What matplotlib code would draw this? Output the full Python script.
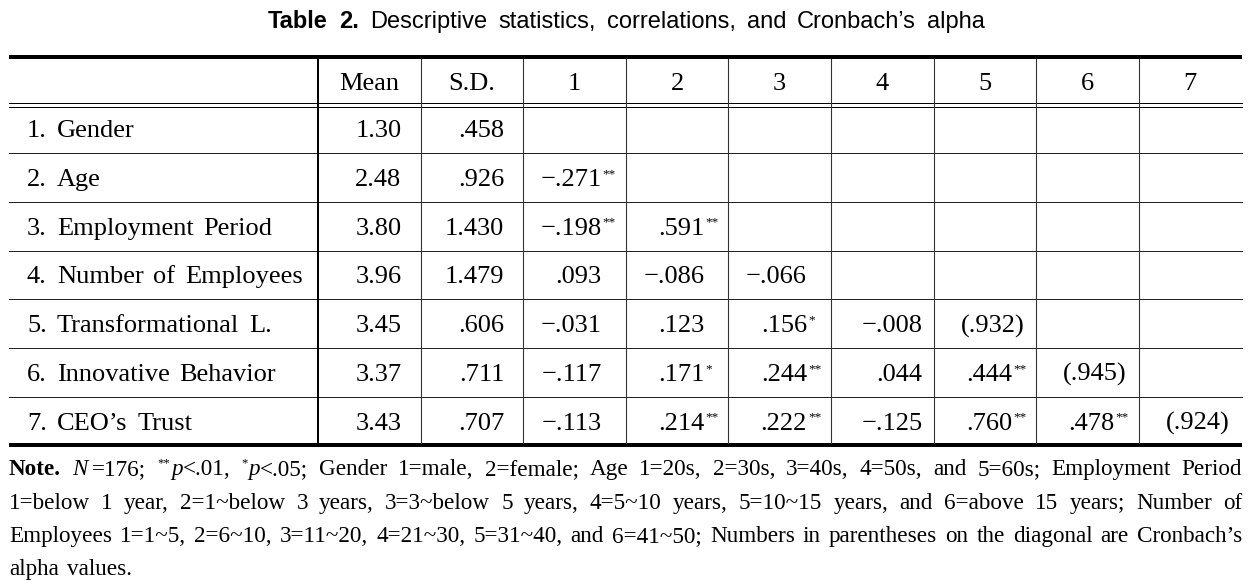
import matplotlib
matplotlib.use('Agg')
import matplotlib.pyplot as plt
from matplotlib import font_manager

W, H = 1259, 582
SERIF = 'Liberation Serif'
avail = {f.name for f in font_manager.fontManager.ttflist}
TSANS = 'Liberation Sans Narrow' if 'Liberation Sans Narrow' in avail else 'Liberation Sans'

# --- data ---
title_words = [('Table', 'bf'), ('2.', 'bf')] + [(w, 'rm') for w in
               'Descriptive statistics, correlations, and Cronbach’s alpha'.split()]
col_heads = ['Mean', 'S.D.', '1', '2', '3', '4', '5', '6', '7']
var_labels = ['1. Gender', '2. Age', '3. Employment Period', '4. Number of Employees',
              '5. Transformational L.', '6. Innovative Behavior', '7. CEO’s Trust']
means = [1.30, 2.48, 3.80, 3.96, 3.45, 3.37, 3.43]
sds = [0.458, 0.926, 1.430, 1.479, 0.606, 0.711, 0.707]
corr = [[],
        [-0.271],
        [-0.198, 0.591],
        [0.093, -0.086, -0.066],
        [-0.031, 0.123, 0.156, -0.008],
        [-0.117, 0.171, 0.244, 0.044, 0.444],
        [-0.113, 0.214, 0.222, -0.125, 0.760, 0.478]]
stars = [[],
         ['**'],
         ['**', '**'],
         ['', '', ''],
         ['', '', '*', ''],
         ['', '*', '**', '', '**'],
         ['', '**', '**', '', '**', '**']]
alphas = [None, None, None, None, 0.932, 0.945, 0.924]

note_lines = [
    [[('Note.', 'bf')], [('N', 'it'), (5, 'gap'), ('=176;', 'rm')],
     [('**', 'sup'), ('p', 'it'), ('<.01,', 'rm')], [('*', 'sup'), ('p', 'it'), ('<.05;', 'rm')]]
    + [[(w, 'rm')] for w in 'Gender 1=male, 2=female; Age 1=20s, 2=30s, 3=40s, 4=50s, and 5=60s; Employment Period'.split()],
    [[(w, 'rm')] for w in '1=below 1 year, 2=1~below 3 years, 3=3~below 5 years, 4=5~10 years, 5=10~15 years, and 6=above 15 years; Number of'.split()],
    [[(w, 'rm')] for w in 'Employees 1=1~5, 2=6~10, 3=11~20, 4=21~30, 5=31~40, and 6=41~50; Numbers in parentheses on the diagonal are Cronbach’s'.split()],
    [[(w, 'rm')] for w in 'alpha values.'.split()],
]


def fmt(v, nd=3):
    s = f'{abs(v):.{nd}f}'
    if s.startswith('0'):
        s = s[1:]
    return ('−' if v < 0 else '') + s


# --- layout ---
fig = plt.figure(figsize=(W / 100, H / 100), dpi=100)
ax = fig.add_axes([0, 0, 1, 1])
ax.set_xlim(0, W); ax.set_ylim(H, 0); ax.axis('off')
R = fig.canvas.get_renderer()

x_l, x_r = 9, 1242
col_x = [318 + 102.6 * i for i in range(10)]
y_top, head_bot, row_h = 56.5, 104.5, 48.7
y_bot = head_bot + len(var_labels) * row_h
PX = 0.72  # points per pixel

ax.plot([x_l, x_r], [y_top, y_top], color='k', lw=4 * PX, solid_capstyle='butt')
ax.plot([x_l, x_r], [y_bot, y_bot], color='k', lw=4 * PX, solid_capstyle='butt')
for yy in (head_bot - 2, head_bot + 2):
    ax.plot([x_l, x_r], [yy, yy], color='k', lw=1 * PX)
for k in range(1, len(var_labels)):
    yy = head_bot + k * row_h
    ax.plot([x_l, x_r], [yy, yy], color='#222', lw=1 * PX)
for i, xx in enumerate(col_x[:-1]):
    ax.plot([xx, xx], [y_top + 2, y_bot - 2], color='k' if i == 0 else '#333',
            lw=(2 if i == 0 else 1.1) * PX)

FS = 19
def txt(x, y, s, size=FS, ha='left', family=SERIF, **kw):
    return ax.text(x, y, s, fontsize=size, family=family, ha=ha, va='baseline', **kw)

def width(t):
    return t.get_window_extent(R).width

# header
hb = (y_top + head_bot) / 2 + 9
for j, h in enumerate(col_heads):
    txt((col_x[j] + col_x[j + 1]) / 2, hb, h, ha='center')

col_has_star = [any(len(st) > j and st[j] for st in stars) for j in range(7)]
for i, lab in enumerate(var_labels):
    base = head_bot + (i + 0.5) * row_h + 8.5
    x = 27
    for w in lab.split():
        t = txt(x, base, w)
        x += width(t) + 10
    txt(col_x[1] - 19, base, f'{means[i]:.2f}', ha='right')
    txt(col_x[2] - 19, base, fmt(sds[i]), ha='right')
    for j, v in enumerate(corr[i]):
        right = col_x[j + 3]
        xn = right - (24 if col_has_star[j] else 11)
        txt(xn, base, fmt(v), ha='right')
        if stars[i][j]:
            txt(xn + 1, base - 9, stars[i][j], size=9.5)
    if alphas[i] is not None:
        txt(col_x[i + 3] - 12, base, '(' + fmt(alphas[i]) + ')', ha='right')

# title, words spread over the reference span
TFS = 17
tw = [txt(0, 28, s, size=TFS, family=TSANS, weight='bold' if k == 'bf' else 'normal')
      for s, k in title_words]
ws = [width(t) for t in tw]
tgap = (985 - 268 - sum(ws)) / (len(ws) - 1)
x = 268
for t, w in zip(tw, ws):
    t.set_x(x)
    x += w + tgap

# note
def make_word(runs, size, base):
    items, x = [], 0
    for s, kind in runs:
        if kind == 'gap':
            x += s
            continue
        kw = dict(family=SERIF)
        sz, yb = size, base
        if kind == 'bf':
            kw['weight'] = 'bold'
        elif kind == 'it':
            kw['style'] = 'italic'
        elif kind == 'sup':
            sz, yb = size * 0.55, base - size * 0.5
        t = txt(0, yb, s, size=sz, **kw)
        items.append((t, x))
        x += width(t) + (1 if kind == 'sup' else 0)
    return items, x

# choose note size so line 3 fits with ~8 px word gaps
probe = [make_word(wd, 15, 0) for wd in note_lines[2]]
wt = sum(w for _, w in probe)
for items, _ in probe:
    for t, _o in items:
        t.remove()
NFS = 15 * (x_r - x_l - 8 * (len(note_lines[2]) - 1)) / wt

note_base = [475, 509, 542, 575]
for li, line in enumerate(note_lines):
    words = [make_word(wd, NFS, note_base[li]) for wd in line]
    tot = sum(w for _, w in words)
    if li < len(note_lines) - 1:
        gap = (x_r - x_l - tot) / (len(words) - 1)
    else:
        gap = 8
    x = x_l
    for items, w in words:
        for t, off in items:
            t.set_x(x + off)
        x += w + gap

fig.savefig('out.png', dpi=100)
